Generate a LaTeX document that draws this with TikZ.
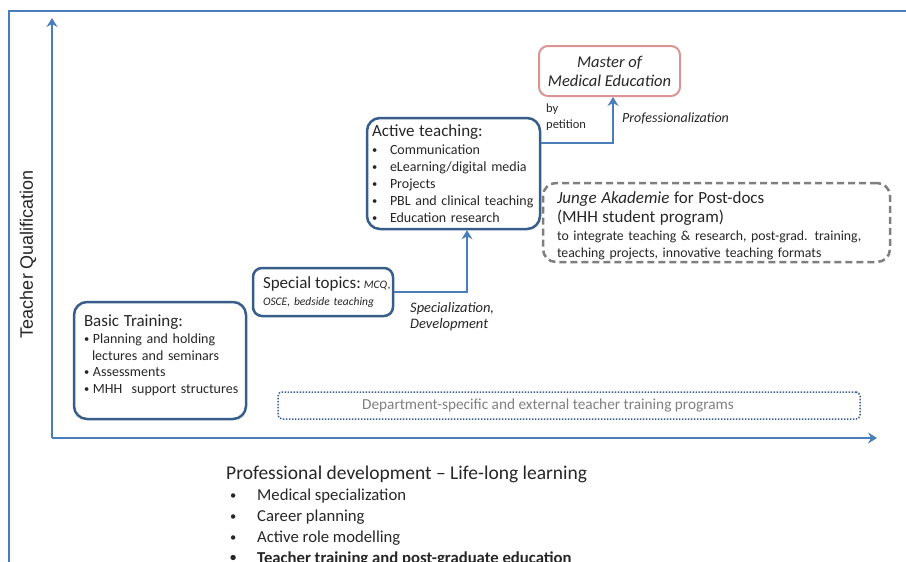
\documentclass[tikz,border=0pt]{standalone}
\usepackage{fontspec}
\setmainfont{Carlito}
\setsansfont{Liberation Sans}
\usetikzlibrary{arrows.meta}
\definecolor{axisblue}{HTML}{4A7EBB}
\definecolor{boxblue}{HTML}{385D8A}
\definecolor{masterpink}{HTML}{D99594}
\definecolor{dashgray}{HTML}{7F7F7F}
\definecolor{inkgray}{HTML}{262626}
\tikzstyle{stage}=[draw=boxblue, line width=2.5pt, rounded corners=13pt, align=left, inner ysep=0pt, text=inkgray]
\tikzstyle{link}=[draw=axisblue, line width=2.5pt, -{Stealth[length=9pt,width=11pt,inset=3pt]}]
\tikzstyle{note}=[inner sep=0pt, text=inkgray, align=left]
\newcommand{\fs}[2]{\fontsize{#1}{#2}\selectfont}
\newcommand{\bul}{\raisebox{0.15ex}{\scalebox{0.75}{\textbullet}}}

\begin{document}
\begin{tikzpicture}[x=1pt, y=-1pt]
    \useasboundingbox (0,0) rectangle (906,562);
    % frame and axes
    \draw[axisblue, line width=1.5pt] (9,580) -- (9,11) -- (920,11);
    \coordinate (origin) at (52,438);
    \coordinate (ytop) at (52,18);
    \coordinate (xend) at (877,438);
    \draw[link] (origin) -- (ytop);
    \draw[link] (origin) -- (xend);
    \node[rotate=90, font=\sffamily\fs{18}{21}, text=inkgray] (qual) at (28,254) {Teacher Qualification};

    % stages
    \node[stage, minimum height=117pt, text width=152pt, inner xsep=10pt, font=\fs{14}{16.7}] (basic) at (160,360.5)
      {{\fs{17}{20}Basic Training:}\\[0.5pt]
       \makebox[9pt][l]{\bul}Planning and holding\\
       \hspace*{8pt}lectures and seminars\\
       \makebox[9pt][l]{\bul}Assessments\\
       \mbox{\makebox[9pt][l]{\bul}MHH\ \ support structures}\\[-3.5pt]\mbox{}};
    \node[stage, rounded corners=9pt, minimum height=48pt, text width=120pt, inner xsep=10pt, font=\itshape\fs{11.5}{17}] (special) at (323,292)
      {\mbox{{\upshape\fs{17}{17}Special topics:}\hspace{3pt}MCQ,}\\
       OSCE, bedside teaching};
    \node[stage, minimum height=111pt, text width=163pt, inner xsep=5pt, font=\fs{14}{17}] (active) at (453.5,173.5)
      {{\fs{17}{19}Active teaching:}\\[1pt]
       \makebox[18pt][l]{\bul}Communication\\
       \makebox[18pt][l]{\bul}eLearning/digital media\\
       \makebox[18pt][l]{\bul}Projects\\
       \makebox[18pt][l]{\bul}PBL and clinical teaching\\
       \makebox[18pt][l]{\bul}Education research};
    \node[stage, draw=masterpink, line width=2pt, rounded corners=9pt, minimum width=141pt, minimum height=50pt, align=center,
      font=\itshape\fs{16.5}{19}] (master) at (609.5,71) {Master of\\Medical Education};
    \node[stage, draw=dashgray, dash pattern=on 7pt off 4pt, rounded corners=13pt, minimum height=79pt, text width=319pt,
      inner xsep=14pt, font=\fs{13.8}{17}] (junge) at (716.5,222.5)
      {{\fs{17}{19}\rule{0pt}{18.8pt}\textit{Junge Akademie} for Post-docs}\\[2pt]
       {\fs{17}{19}(MHH student program)}\\[1pt]
       to integrate teaching \& research, post-grad. training,\\
       teaching projects, innovative teaching formats};
    \node[draw=boxblue, line width=1.5pt, dash pattern=on 1.5pt off 1.5pt, rounded corners=4pt, minimum width=582pt,
      minimum height=27pt, inner sep=0pt, text=dashgray, font=\fs{15.3}{17}] (dept) at (569,405.5)
      {\hspace*{-42pt}Department-specific and external teacher training programs};

    % connectors
    \draw[link] (special.east) -| ([xshift=13.5pt]active.south);
    \draw[link] ([yshift=30.5pt]active.east) -| ([xshift=3.5pt]master.south);
    \node[note, anchor=north west, font=\itshape\fs{14.5}{16}] (spec) at (410,302) {Specialization,\\Development};
    \node[note, anchor=north west, font=\fs{12.5}{16}] (petition) at (546,104) {by\\petition};
    \node[note, anchor=west, font=\itshape\fs{14}{16}] (prof) at (622,118) {Professionalization};

    % life-long learning
    \node[note, anchor=base west, font=\fs{19.5}{22}] (lifelong) at (226,479) {Professional development -- Life-long learning};
    \foreach \i/\item in {0/Medical specialization, 1/Career planning, 2/Active role modelling}
      \node[note, anchor=base west, font=\fs{16.7}{21}] (item\i) at (230,500.5+21*\i) {\makebox[27pt][l]{\bul}\item};
    \node[note, anchor=base west, font=\bfseries\fs{16.7}{21}] (item3) at (230,563) {\makebox[27pt][l]{\bul}Teacher training and post-graduate education};
\end{tikzpicture}
\end{document}
